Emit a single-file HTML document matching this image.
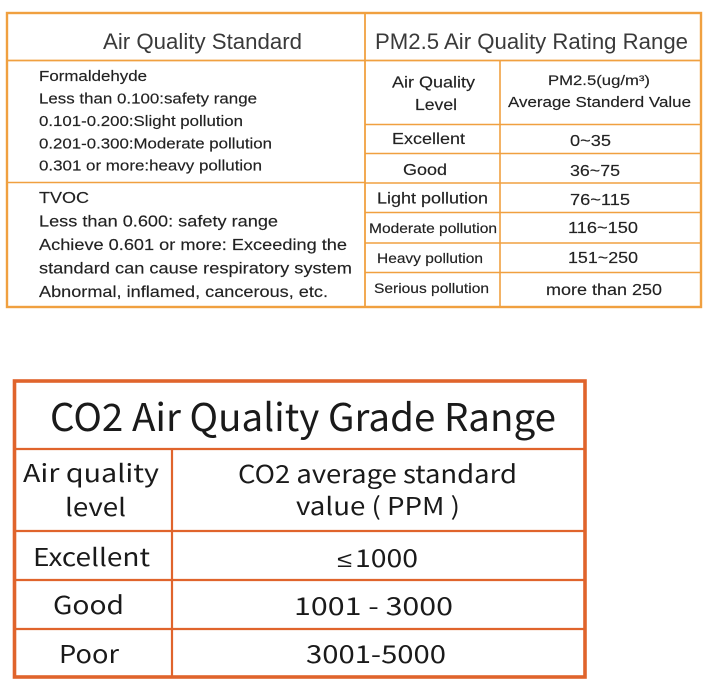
<!DOCTYPE html>
<html>
<head>
<meta charset="utf-8">
<style>
html,body{margin:0;padding:0;background:#fff;}
svg{display:block;}
.a{font-family:"Liberation Sans",Arial,sans-serif;fill:#222;stroke:#222;stroke-width:0.15;}
.h{font-family:"Liberation Sans",Arial,sans-serif;fill:#3a3a3a;}
.b{font-family:"Noto Sans CJK SC","Liberation Sans",sans-serif;fill:#1a1a1a;}
.le{font-family:"Liberation Sans","DejaVu Sans",sans-serif;fill:#1a1a1a;}
</style>
</head>
<body>
<svg width="713" height="692" viewBox="0 0 713 692" xmlns="http://www.w3.org/2000/svg">
<rect width="713" height="692" fill="#fff"/>
<!-- Top table lines -->
<g stroke="#F0A040" fill="none">
  <rect x="7" y="13" width="694" height="294" stroke-width="2.4"/>
  <line x1="7" y1="60.5" x2="701" y2="60.5" stroke-width="1.8"/>
  <line x1="365" y1="13" x2="365" y2="307" stroke-width="1.8"/>
  <line x1="7" y1="182.5" x2="365" y2="182.5" stroke-width="1.6"/>
  <line x1="500" y1="60" x2="500" y2="307" stroke-width="1.6"/>
  <line x1="365" y1="124.5" x2="701" y2="124.5" stroke-width="1.6"/>
  <line x1="365" y1="153.5" x2="701" y2="153.5" stroke-width="1.6"/>
  <line x1="365" y1="183" x2="701" y2="183" stroke-width="1.6"/>
  <line x1="365" y1="212.5" x2="701" y2="212.5" stroke-width="1.6"/>
  <line x1="365" y1="243" x2="701" y2="243" stroke-width="1.6"/>
  <line x1="365" y1="272.5" x2="701" y2="272.5" stroke-width="1.6"/>
</g>
<!-- Top left text -->
<text class="h" x="103" y="49" font-size="22" textLength="199" lengthAdjust="spacingAndGlyphs">Air Quality Standard</text>
<text class="a" x="39" y="81" font-size="14.5" textLength="108" lengthAdjust="spacingAndGlyphs">Formaldehyde</text>
<text class="a" x="39" y="103.5" font-size="14.5" textLength="218" lengthAdjust="spacingAndGlyphs">Less than 0.100:safety range</text>
<text class="a" x="39" y="126" font-size="14.5" textLength="204" lengthAdjust="spacingAndGlyphs">0.101-0.200:Slight pollution</text>
<text class="a" x="39" y="148.5" font-size="14.5" textLength="233" lengthAdjust="spacingAndGlyphs">0.201-0.300:Moderate pollution</text>
<text class="a" x="39" y="170.5" font-size="14.5" textLength="223" lengthAdjust="spacingAndGlyphs">0.301 or more:heavy pollution</text>
<text class="a" x="39" y="203" font-size="16" textLength="50" lengthAdjust="spacingAndGlyphs">TVOC</text>
<text class="a" x="39" y="226.5" font-size="16" textLength="239" lengthAdjust="spacingAndGlyphs">Less than 0.600: safety range</text>
<text class="a" x="39" y="250" font-size="16" textLength="308" lengthAdjust="spacingAndGlyphs">Achieve 0.601 or more: Exceeding the</text>
<text class="a" x="39" y="273.5" font-size="16" textLength="313" lengthAdjust="spacingAndGlyphs">standard can cause respiratory system</text>
<text class="a" x="39" y="297" font-size="16" textLength="289" lengthAdjust="spacingAndGlyphs">Abnormal, inflamed, cancerous, etc.</text>
<!-- Top right text -->
<text class="h" x="375" y="49" font-size="22" textLength="313" lengthAdjust="spacingAndGlyphs">PM2.5 Air Quality Rating Range</text>
<text class="a" x="392" y="87.5" font-size="16" textLength="83" lengthAdjust="spacingAndGlyphs">Air Quality</text>
<text class="a" x="415" y="110" font-size="16" textLength="42" lengthAdjust="spacingAndGlyphs">Level</text>
<text class="a" x="548" y="85" font-size="14" textLength="102" lengthAdjust="spacingAndGlyphs">PM2.5(ug/m³)</text>
<text class="a" x="508" y="107" font-size="14.5" textLength="183" lengthAdjust="spacingAndGlyphs">Average Standerd Value</text>
<text class="a" x="392" y="144" font-size="16" textLength="73" lengthAdjust="spacingAndGlyphs">Excellent</text>
<text class="a" x="570" y="146" font-size="16" textLength="41" lengthAdjust="spacingAndGlyphs">0~35</text>
<text class="a" x="403" y="175" font-size="16" textLength="44" lengthAdjust="spacingAndGlyphs">Good</text>
<text class="a" x="570" y="176" font-size="16" textLength="50" lengthAdjust="spacingAndGlyphs">36~75</text>
<text class="a" x="377" y="203.5" font-size="16" textLength="111" lengthAdjust="spacingAndGlyphs">Light pollution</text>
<text class="a" x="570" y="205" font-size="16" textLength="60" lengthAdjust="spacingAndGlyphs">76~115</text>
<text class="a" x="369" y="233" font-size="14" textLength="128" lengthAdjust="spacingAndGlyphs">Moderate pollution</text>
<text class="a" x="568" y="233" font-size="16" textLength="70" lengthAdjust="spacingAndGlyphs">116~150</text>
<text class="a" x="377" y="263" font-size="14" textLength="106" lengthAdjust="spacingAndGlyphs">Heavy pollution</text>
<text class="a" x="568" y="263" font-size="16" textLength="70" lengthAdjust="spacingAndGlyphs">151~250</text>
<text class="a" x="374" y="293" font-size="14" textLength="115" lengthAdjust="spacingAndGlyphs">Serious pollution</text>
<text class="a" x="546" y="295" font-size="16" textLength="116" lengthAdjust="spacingAndGlyphs">more than 250</text>

<!-- Bottom table lines -->
<g stroke="#E0642C" fill="none">
  <rect x="14.5" y="381" width="570.5" height="296" stroke-width="3.6"/>
  <line x1="14" y1="449" x2="585" y2="449" stroke-width="2.2"/>
  <line x1="172" y1="449" x2="172" y2="677" stroke-width="2.2"/>
  <line x1="14" y1="531" x2="585" y2="531" stroke-width="2.2"/>
  <line x1="14" y1="580" x2="585" y2="580" stroke-width="2.2"/>
  <line x1="14" y1="629" x2="585" y2="629" stroke-width="2.2"/>
</g>
<!-- Bottom text -->
<text class="b" x="50" y="431" font-size="38" textLength="506" lengthAdjust="spacingAndGlyphs">CO2 Air Quality Grade Range</text>
<text class="b" x="23" y="482" font-size="24.5" textLength="136" lengthAdjust="spacingAndGlyphs">Air quality</text>
<text class="b" x="65" y="516" font-size="24.5" textLength="61" lengthAdjust="spacingAndGlyphs">level</text>
<text class="b" x="238" y="483" font-size="24.5" textLength="279" lengthAdjust="spacingAndGlyphs">CO2 average standard</text>
<text class="b" x="296" y="515" font-size="24.5" textLength="164" lengthAdjust="spacingAndGlyphs">value ( PPM )</text>
<text class="b" x="33" y="566" font-size="24.5" textLength="117" lengthAdjust="spacingAndGlyphs">Excellent</text>
<text class="le" x="337" y="567" font-size="22" textLength="15" lengthAdjust="spacingAndGlyphs">≤</text>
<text class="b" x="355" y="567" font-size="24.5" textLength="63" lengthAdjust="spacingAndGlyphs">1000</text>
<text class="b" x="53" y="614" font-size="24.5" textLength="71" lengthAdjust="spacingAndGlyphs">Good</text>
<text class="b" x="294" y="615" font-size="24.5" textLength="159" lengthAdjust="spacingAndGlyphs">1001 - 3000</text>
<text class="b" x="59" y="663" font-size="24.5" textLength="60" lengthAdjust="spacingAndGlyphs">Poor</text>
<text class="b" x="306" y="663" font-size="24.5" textLength="140" lengthAdjust="spacingAndGlyphs">3001-5000</text>
</svg>
</body>
</html>
